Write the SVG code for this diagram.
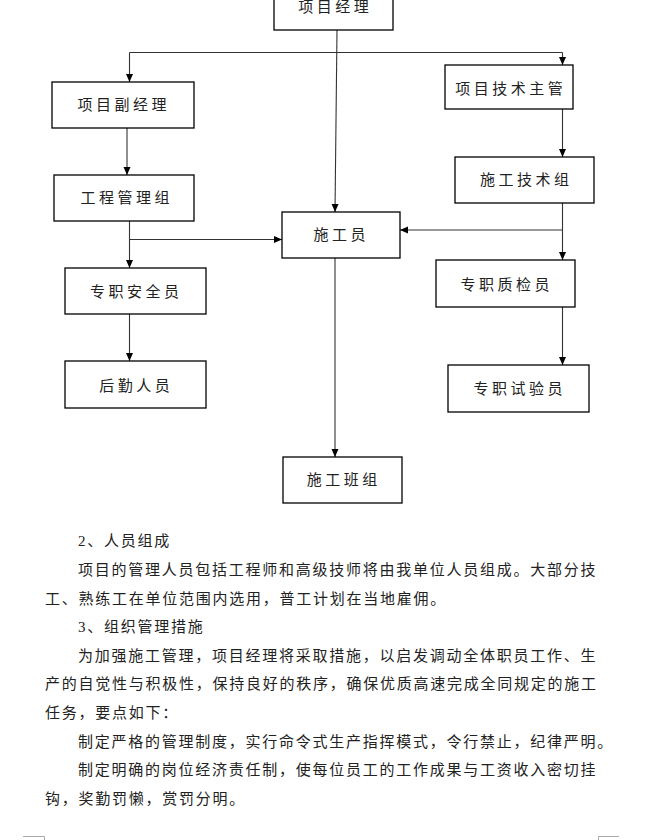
<svg xmlns="http://www.w3.org/2000/svg" width="660" height="840" viewBox="0 0 660 840">
<style>
.box{fill:#fff;stroke:#000;stroke-width:1.3}
.lbl{font-family:"Liberation Serif","Noto Sans CJK SC",sans-serif;font-size:15px;letter-spacing:3.5px;fill:#222;text-anchor:middle}
.body{font-family:"Liberation Serif","Noto Sans CJK SC",serif;font-size:15px;letter-spacing:1.75px;fill:#222}
.con{stroke:#333;stroke-width:1.1;fill:none}
.arr{marker-end:url(#ah)}
.mark{stroke:#aaa;stroke-width:1;fill:none}
</style>
<defs>
<marker id="ah" markerUnits="userSpaceOnUse" markerWidth="8" markerHeight="8" refX="8" refY="3.5" orient="auto">
<path d="M0,0 L8,3.5 L0,7 z" fill="#000"/>
</marker>
</defs>
<rect width="660" height="840" fill="#fff"/>
<g id="connectors">
<path class="con" d="M129.5,52.5 H562.5"/>
<path class="con arr" d="M337,30 L335,212"/>
<path class="con arr" d="M129.5,52.5 V82"/>
<path class="con arr" d="M562.5,52.5 V65"/>
<path class="con arr" d="M127,128 V175"/>
<path class="con arr" d="M129.5,221 V268"/>
<path class="con arr" d="M129.5,239.5 H282"/>
<path class="con arr" d="M562.5,109 V157"/>
<path class="con arr" d="M562.5,203 V260"/>
<path class="con arr" d="M562.5,230 H400"/>
<path class="con arr" d="M335,258 V457"/>
<path class="con arr" d="M129.5,314 V361"/>
<path class="con arr" d="M562.5,307 V365"/>
</g>
<g id="n-pm"><rect class="box" x="274" y="-15" width="119" height="45"/><text class="lbl" x="335.3" y="11.5">项目经理</text></g>
<g id="n-dpm"><rect class="box" x="52" y="82" width="142" height="46"/><text class="lbl" x="123.8" y="110.3">项目副经理</text></g>
<g id="n-eng"><rect class="box" x="54" y="175" width="140" height="46"/><text class="lbl" x="126.8" y="203.3">工程管理组</text></g>
<g id="n-worker"><rect class="box" x="282" y="212" width="118" height="46"/><text class="lbl" x="341.3" y="240.3">施工员</text></g>
<g id="n-tech"><rect class="box" x="445" y="65" width="128" height="44"/><text class="lbl" x="510.8" y="94.3">项目技术主管</text></g>
<g id="n-techgrp"><rect class="box" x="455" y="157" width="139" height="46"/><text class="lbl" x="526.3" y="185.3">施工技术组</text></g>
<g id="n-qc"><rect class="box" x="436" y="260" width="139" height="47"/><text class="lbl" x="506.8" y="290.3">专职质检员</text></g>
<g id="n-safety"><rect class="box" x="65" y="268" width="141" height="46"/><text class="lbl" x="136.3" y="297.3">专职安全员</text></g>
<g id="n-logistics"><rect class="box" x="65" y="361" width="141" height="47"/><text class="lbl" x="136.3" y="391.3">后勤人员</text></g>
<g id="n-test"><rect class="box" x="448" y="365" width="141" height="47"/><text class="lbl" x="519.8" y="394.3">专职试验员</text></g>
<g id="n-team"><rect class="box" x="283" y="457" width="119" height="46"/><text class="lbl" x="343.8" y="485.3">施工班组</text></g>
<g id="body-text">
<text class="body" x="78" y="546.3">2、人员组成</text>
<text class="body" x="78" y="574.9">项目的管理人员包括工程师和高级技师将由我单位人员组成。大部分技</text>
<text class="body" x="45" y="603.5">工、熟练工在单位范围内选用，普工计划在当地雇佣。</text>
<text class="body" x="78" y="632.1">3、组织管理措施</text>
<text class="body" x="78" y="660.7">为加强施工管理，项目经理将采取措施，以启发调动全体职员工作、生</text>
<text class="body" x="45" y="689.3">产的自觉性与积极性，保持良好的秩序，确保优质高速完成全同规定的施工</text>
<text class="body" x="45" y="717.9">任务，要点如下：</text>
<text class="body" x="78" y="746.5">制定严格的管理制度，实行命令式生产指挥模式，令行禁止，纪律严明。</text>
<text class="body" x="78" y="775.1">制定明确的岗位经济责任制，使每位员工的工作成果与工资收入密切挂</text>
<text class="body" x="45" y="803.7">钩，奖勤罚懒，赏罚分明。</text>
</g>
<path class="mark" d="M23,836.5 H44.5 V840"/>
<path class="mark" d="M619,836.5 H598.5 V840"/>
</svg>
